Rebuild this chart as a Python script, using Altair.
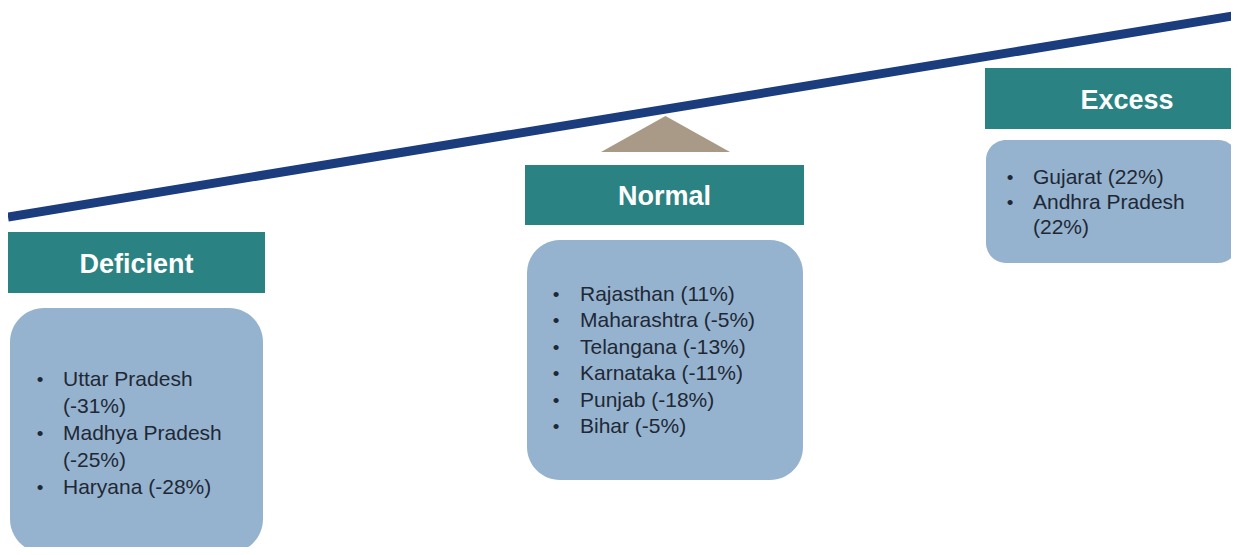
import altair as alt
import pandas as pd

# ---- data ----
categories = ["Deficient", "Normal", "Excess"]
deficient_states = ["Uttar Pradesh", "Madhya Pradesh", "Haryana"]
deficient_values = [-31, -25, -28]
normal_states = ["Rajasthan", "Maharashtra", "Telangana", "Karnataka", "Punjab", "Bihar"]
normal_values = [11, -5, -13, -11, -18, -5]
excess_states = ["Gujarat", "Andhra Pradesh"]
excess_values = [22, 22]

groups = {
    "Deficient": (deficient_states, deficient_values),
    "Normal": (normal_states, normal_values),
    "Excess": (excess_states, excess_values),
}

# ---- layout (page pixel coordinates) ----
W, H = 1223, 539
X0, Y0 = 8, 8
layout = {
    "Deficient": dict(hx=(8, 265), hy=(232, 293), bx=(10, 263), by=(308, 553), r=34,
                      bullet_x=40, text_x=63, y0=380, dy=27, wrap=True),
    "Normal": dict(hx=(525, 804), hy=(165, 225), bx=(527, 803), by=(240, 480), r=33,
                   bullet_x=556, text_x=580, y0=295, dy=26.4, wrap=False),
    "Excess": dict(hx=(985, 1269), hy=(68, 129), bx=(986, 1238), by=(140, 263), r=20,
                   bullet_x=1010, text_x=1033, y0=178, dy=25, wrap=True),
}

TEAL = "#2b8283"
BOX = "#95b3cf"
NAVY = "#1b3c7d"
TAUPE = "#a89a86"
TXT = "#1f2835"
FONT = "Arial, Liberation Sans, sans-serif"

xs = alt.Scale(domain=[X0, X0 + W], nice=False, zero=False)
ys = alt.Scale(domain=[Y0, Y0 + H], nice=False, zero=False, reverse=True)

layers = []

# seesaw beam
beam = pd.DataFrame({"x": [8, 1239], "y": [217, 15]})
layers.append(
    alt.Chart(beam).mark_line(color=NAVY, strokeWidth=9, clip=True).encode(
        x=alt.X("x:Q", scale=xs, axis=None), y=alt.Y("y:Q", scale=ys, axis=None)
    )
)

# fulcrum triangle
tri = pd.DataFrame({"x": [601, 665.5, 730], "y": [152, 116, 152], "y2": [152, 152, 152]})
layers.append(
    alt.Chart(tri).mark_area(color=TAUPE, clip=True).encode(
        x=alt.X("x:Q", scale=xs, axis=None), y=alt.Y("y:Q", scale=ys, axis=None), y2="y2:Q"
    )
)

text_rows = []
bullet_rows = []
for cat in categories:
    L = layout[cat]
    hdr = pd.DataFrame({"x": [L["hx"][0]], "x2": [L["hx"][1]], "y": [L["hy"][0]], "y2": [L["hy"][1]],
                        "label": [cat], "cx": [(L["hx"][0] + L["hx"][1]) / 2],
                        "cy": [(L["hy"][0] + L["hy"][1]) / 2 + 2]})
    layers.append(
        alt.Chart(hdr).mark_rect(color=TEAL, clip=True).encode(
            x=alt.X("x:Q", scale=xs, axis=None), x2="x2:Q",
            y=alt.Y("y:Q", scale=ys, axis=None), y2="y2:Q"
        )
    )
    layers.append(
        alt.Chart(hdr).mark_text(color="white", font=FONT, fontSize=27, fontWeight="bold",
                                 align="center", baseline="middle").encode(
            x=alt.X("cx:Q", scale=xs, axis=None), y=alt.Y("cy:Q", scale=ys, axis=None), text="label:N"
        )
    )
    box = pd.DataFrame({"x": [L["bx"][0]], "x2": [L["bx"][1]], "y": [L["by"][0]], "y2": [L["by"][1]]})
    layers.append(
        alt.Chart(box).mark_rect(color=BOX, cornerRadius=L["r"], clip=True).encode(
            x=alt.X("x:Q", scale=xs, axis=None), x2="x2:Q",
            y=alt.Y("y:Q", scale=ys, axis=None), y2="y2:Q"
        )
    )
    states, vals = groups[cat]
    line = 0
    for s, v in zip(states, vals):
        pct = f"({v}%)"
        y = L["y0"] + L["dy"] * line
        bullet_rows.append({"x": L["bullet_x"], "y": y, "t": "•"})
        if L["wrap"] and " " in s:
            text_rows.append({"x": L["text_x"], "y": y, "t": s})
            line += 1
            text_rows.append({"x": L["text_x"], "y": L["y0"] + L["dy"] * line, "t": pct})
        else:
            text_rows.append({"x": L["text_x"], "y": y, "t": f"{s} {pct}"})
        line += 1

layers.append(
    alt.Chart(pd.DataFrame(text_rows)).mark_text(color=TXT, font=FONT, fontSize=21,
                                                 align="left", baseline="middle").encode(
        x=alt.X("x:Q", scale=xs, axis=None), y=alt.Y("y:Q", scale=ys, axis=None), text="t:N"
    )
)
layers.append(
    alt.Chart(pd.DataFrame(bullet_rows)).mark_text(color=TXT, font=FONT, fontSize=19,
                                                   align="center", baseline="middle").encode(
        x=alt.X("x:Q", scale=xs, axis=None), y=alt.Y("y:Q", scale=ys, axis=None), text="t:N"
    )
)

chart = alt.layer(*layers).properties(
    width=W, height=H, padding=0, autosize=alt.AutoSizeParams(type="none")
).configure(background="white").configure_view(strokeWidth=0, stroke="transparent")

chart.save("out.html", embed_options={"renderer": "svg", "actions": False})
